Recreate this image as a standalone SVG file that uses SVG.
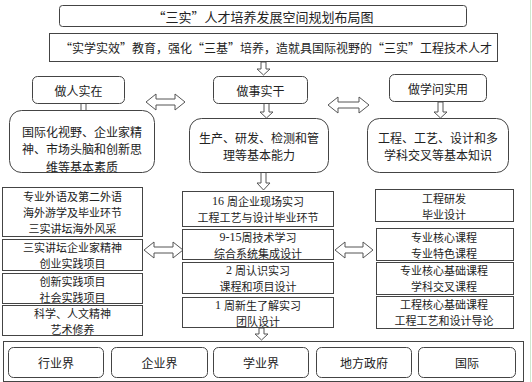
<svg xmlns="http://www.w3.org/2000/svg" width="532" height="382" viewBox="0 0 532 382">
<style>
.bx{fill:#fff;stroke:#444;stroke-width:1}
.ar{fill:#fff;stroke:#555;stroke-width:1}
text{font-family:"Noto Sans CJK SC","Noto Sans",sans-serif;font-size:12px;fill:#222;text-anchor:middle;dominant-baseline:central}
.t13{font-size:13px}
.s11{font-size:11px}
.num{font-family:"Liberation Serif",serif;font-size:12px}
</style>
<rect width="532" height="382" fill="#fff"/>
<line x1="530.5" y1="0" x2="530.5" y2="382" stroke="#cfe8cf" stroke-width="1"/>
<g id="connectors">
<polygon class="ar" points="261,62 266,62 266,69 270,69 263.5,75 257,69 261,69"/>
<polygon class="ar" points="146,102 156,94 156,99 175,99 175,94 185,102 175,110 175,105 156,105 156,110"/>
<polygon class="ar" points="328,105 338,97 338,102 359,102 359,97 369,105 359,113 359,108 338,108 338,113"/>
<polygon class="ar" points="81,103 86,103 86,111 90,111 83.5,117 77,111 81,111"/>
<polygon class="ar" points="264,103 269,103 269,112 273,112 266.5,118 260,112 264,112"/>
<polygon class="ar" points="438,102 443,102 443,112 447,112 440.5,118 434,112 438,112"/>
<polygon class="ar" points="261,172 266,172 266,183 270,183 263.5,190 257,183 261,183"/>
<polygon class="ar" points="144,250 154,242 154,247 173,247 173,242 183,250 173,258 173,253 154,253 154,258"/>
<polygon class="ar" points="335,250 345,242 345,247 363,247 363,242 373,250 363,258 363,253 345,253 345,258"/>
<polygon class="ar" points="259,328 264,328 264,334 268,334 261.5,340 255,334 259,334"/>
</g>
<g id="title"><rect class="bx" x="59.5" y="5.5" width="407" height="21" rx="3"/><text class="t13" x="263" y="16">“三实”人才培养发展空间规划布局图</text></g>
<g id="goal"><rect class="bx" x="49.5" y="33.5" width="448" height="28"/><text x="276" y="47.5">“实学实效”教育，强化“三基”培养，造就具国际视野的“三实”工程技术人才</text></g>
<g id="zuoren"><rect class="bx" x="32.5" y="76.5" width="92" height="27" rx="5"/><text x="78.5" y="90">做人实在</text></g>
<g id="zuoshi"><rect class="bx" x="213.5" y="76.5" width="94" height="27" rx="5"/><text x="260.5" y="90">做事实干</text></g>
<g id="zuoxue"><rect class="bx" x="389.5" y="74.5" width="97" height="27" rx="5"/><text x="438" y="88">做学问实用</text></g>
<g id="suzhi"><rect class="bx" x="9.5" y="110.5" width="145" height="62" rx="12"/><text x="82" y="131">国际化视野、企业家精</text><text x="82" y="148.5">神、市场头脑和创新思</text><text x="82" y="166">维等基本素质</text></g>
<g id="nengli"><rect class="bx" x="189.5" y="118.5" width="139" height="54" rx="12"/><text x="259" y="137">生产、研发、检测和管</text><text x="259" y="154.5">理等基本能力</text></g>
<g id="zhishi"><rect class="bx" x="367.5" y="118.5" width="141" height="54" rx="12"/><text x="438" y="137">工程、工艺、设计和多</text><text x="438" y="154.5">学科交叉等基本知识</text></g>
<g id="l1"><rect class="bx" x="2.5" y="187.5" width="140" height="49"/><text class="s11" x="72.5" y="196">专业外语及第二外语</text><text class="s11" x="72.5" y="212">海外游学及毕业环节</text><text class="s11" x="72.5" y="228">三实讲坛海外风采</text></g>
<g id="l2"><rect class="bx" x="2.5" y="239.5" width="140" height="31"/><text class="s11" x="72.5" y="247">三实讲坛企业家精神</text><text class="s11" x="72.5" y="263">创业实践项目</text></g>
<g id="l3"><rect class="bx" x="2.5" y="273.5" width="140" height="30"/><text class="s11" x="72.5" y="281">创新实践项目</text><text class="s11" x="72.5" y="297">社会实践项目</text></g>
<g id="l4"><rect class="bx" x="2.5" y="305.5" width="140" height="30"/><text class="s11" x="72.5" y="313">科学、人文精神</text><text class="s11" x="72.5" y="329">艺术修养</text></g>
<g id="c1"><rect class="bx" x="182.5" y="191.5" width="151" height="35"/><text class="s11" x="258" y="201"><tspan class="num">16 </tspan>周企业现场实习</text><text class="s11" x="258" y="217">工程工艺与设计毕业环节</text></g>
<g id="c2"><rect class="bx" x="182.5" y="229.5" width="151" height="30"/><text class="s11" x="258" y="236.5"><tspan class="num">9-15</tspan>周技术学习</text><text class="s11" x="258" y="252.5">综合系统集成设计</text></g>
<g id="c3"><rect class="bx" x="182.5" y="262.5" width="151" height="31"/><text class="s11" x="258" y="270"><tspan class="num">2 </tspan>周认识实习</text><text class="s11" x="258" y="286">课程和项目设计</text></g>
<g id="c4"><rect class="bx" x="182.5" y="297.5" width="151" height="30"/><text class="s11" x="258" y="304.5"><tspan class="num">1 </tspan>周新生了解实习</text><text class="s11" x="258" y="320.5">团队设计</text></g>
<g id="r1"><rect class="bx" x="375.5" y="189.5" width="138" height="32"/><text class="s11" x="444" y="198">工程研发</text><text class="s11" x="444" y="214">毕业设计</text></g>
<g id="r2"><rect class="bx" x="376.5" y="228.5" width="137" height="32"/><text class="s11" x="444" y="237">专业核心课程</text><text class="s11" x="444" y="253">专业特色课程</text></g>
<g id="r3"><rect class="bx" x="376.5" y="262.5" width="137" height="32"/><text class="s11" x="444" y="270">专业核心基础课程</text><text class="s11" x="444" y="286">学科交叉课程</text></g>
<g id="r4"><rect class="bx" x="376.5" y="296.5" width="137" height="32"/><text class="s11" x="444" y="304">工程核心基础课程</text><text class="s11" x="444" y="320">工程工艺和设计导论</text></g>
<g id="society"><rect class="bx" x="3.5" y="341.5" width="520" height="40"/></g>
<g id="hangye"><rect class="bx" x="8.5" y="347.5" width="95" height="30" rx="5"/><text x="56" y="362">行业界</text></g>
<g id="qiye"><rect class="bx" x="111.5" y="347.5" width="96" height="30" rx="5"/><text x="159.5" y="362">企业界</text></g>
<g id="xueye"><rect class="bx" x="213.5" y="347.5" width="95" height="30" rx="5"/><text x="261" y="362">学业界</text></g>
<g id="zhengfu"><rect class="bx" x="316.5" y="347.5" width="95" height="30" rx="5"/><text x="364" y="362">地方政府</text></g>
<g id="guoji"><rect class="bx" x="418.5" y="347.5" width="97" height="30" rx="5"/><text x="467" y="362">国际</text></g>
</svg>
